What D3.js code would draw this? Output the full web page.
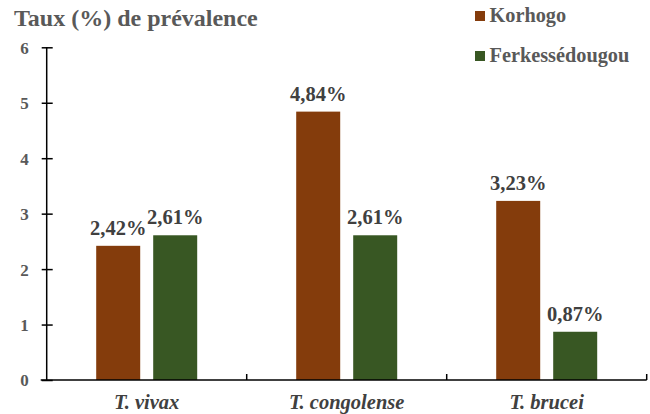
<!DOCTYPE html>
<html>
<head>
<meta charset="utf-8">
<script src="https://cdn.jsdelivr.net/npm/d3@7"></script>
<style>
  html, body { margin: 0; padding: 0; background: #fff; }
  svg { display: block; }
</style>
</head>
<body>
<svg id="chart" width="650" height="414"></svg>
<script>
// Prevalence (%) of trypanosome species per locality
const species = ["T. vivax", "T. congolense", "T. brucei"];
const seriesNames = ["Korhogo", "Ferkessédougou"];
const korhogo = [2.42, 4.84, 3.23];
const ferke = [2.61, 2.61, 0.87];
const yTicks = [0, 1, 2, 3, 4, 5, 6];
const colors = ["#843C0C", "#385723"];

const svg = d3.select("#chart");
const plotLeft = 46.7, plotRight = 646.7, plotTop = 47.3, plotBottom = 380;

const x = d3.scaleBand().domain(species).range([plotLeft, plotRight]).padding(0);
const y = d3.scaleLinear().domain([0, 6]).range([plotBottom, plotTop]);

const barW = 44, gap = 13;
const values = [korhogo, ferke];
const fmt = v => v.toFixed(2).replace(".", ",") + "%";

// Bars and value labels
values.forEach((vals, s) => {
  const g = svg.append("g");
  species.forEach((sp, i) => {
    const c = x(sp) + x.bandwidth() / 2;
    const x0 = s === 0 ? c - gap / 2 - barW : c + gap / 2;
    g.append("rect")
      .attr("x", x0).attr("width", barW)
      .attr("y", y(vals[i])).attr("height", y(0) - y(vals[i]))
      .attr("fill", colors[s]);
    g.append("text")
      .attr("x", x0 + barW / 2).attr("y", y(vals[i]) - 11)
      .attr("text-anchor", "middle")
      .attr("font-size", 20.5)
      .attr("fill", "#404040")
      .text(fmt(vals[i]));
  });
});

// Y axis
const yAxis = svg.append("g").attr("transform", `translate(${plotLeft},0)`)
  .call(d3.axisLeft(y).tickValues(yTicks).tickFormat(d3.format("d")).tickSize(0));
yAxis.select(".domain").remove();
yAxis.append("line").attr("x1", 0).attr("x2", 0).attr("y1", plotTop).attr("y2", plotBottom)
  .attr("stroke", "#000").attr("stroke-width", 1.5);
yAxis.selectAll(".tick").append("line")
  .attr("x1", -5).attr("x2", 6).attr("stroke", "#000").attr("stroke-width", 1.5);
yAxis.selectAll(".tick text")
  .attr("x", -18).attr("dy", "0.35em")
  .attr("font-size", 17).attr("fill", "#595959");

// X axis
const xAxis = svg.append("g").attr("transform", `translate(0,${plotBottom})`);
xAxis.append("line").attr("x1", plotLeft - 6).attr("x2", plotRight).attr("y1", 0).attr("y2", 0)
  .attr("stroke", "#000").attr("stroke-width", 1.5);
species.forEach((sp, i) => {
  if (i > 0) {
    xAxis.append("line").attr("x1", x(sp)).attr("x2", x(sp)).attr("y1", -6).attr("y2", 0)
      .attr("stroke", "#000").attr("stroke-width", 1.5);
  }
});
xAxis.append("line").attr("x1", plotRight).attr("x2", plotRight).attr("y1", -6).attr("y2", 0)
  .attr("stroke", "#000").attr("stroke-width", 1.5);
xAxis.selectAll("text.cat").data(species).join("text")
  .attr("class", "cat")
  .attr("x", d => x(d) + x.bandwidth() / 2).attr("y", 28.5)
  .attr("text-anchor", "middle")
  .attr("font-style", "italic")
  .attr("font-size", 20.5).attr("fill", "#404040")
  .text(d => d);

// Axis title
svg.append("text").attr("x", 14).attr("y", 26)
  .attr("font-size", 24).attr("fill", "#595959")
  .text("Taux (%) de prévalence");

// Legend
const legend = svg.append("g");
seriesNames.forEach((n, i) => {
  const ly = 11 + i * 40;
  legend.append("rect").attr("x", 475).attr("y", ly).attr("width", 10).attr("height", 10)
    .attr("fill", colors[i]);
  legend.append("text").attr("x", 489.5).attr("y", ly + 10.5)
    .attr("font-size", 20.3).attr("fill", "#595959")
    .text(n);
});

// Serif bold typeface for every label
svg.selectAll("text")
  .style("font-family", "'Liberation Serif', serif")
  .style("font-weight", "bold");
</script>
</body>
</html>
